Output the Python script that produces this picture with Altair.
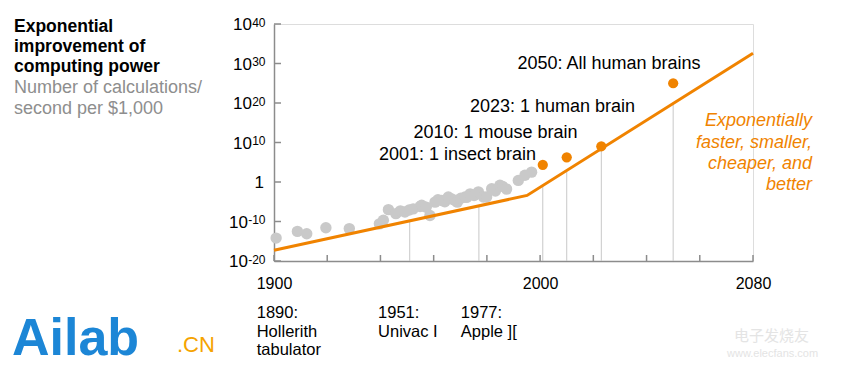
import altair as alt
import pandas as pd

# ---------------- data ----------------
hist_years = [1900.8, 1908.8, 1912.3, 1919.5, 1928.3, 1939.6, 1941.1, 1943.0, 1945.8, 1947.5,
              1949.2, 1950.8, 1952.3, 1954.9, 1955.5, 1957.2, 1958.6, 1960.5, 1961.6, 1963.0,
              1964.2, 1965.5, 1966.8, 1968.0, 1968.9, 1970.2, 1971.8, 1972.4, 1973.7, 1975.2,
              1976.8, 1978.7, 1979.9, 1981.8, 1983.2, 1984.9, 1985.9, 1987.4, 1991.8, 1994.3, 1996.8]
hist_exp = [-14.2, -12.5, -13.1, -11.6, -11.8, -10.6, -9.7, -7.0, -8.0, -7.3,
            -7.6, -7.1, -6.8, -6.2, -5.9, -6.4, -8.5, -5.1, -4.5, -4.7,
            -5.0, -3.8, -4.3, -4.7, -5.1, -4.1, -3.8, -3.9, -3.0, -3.4,
            -2.5, -3.8, -3.8, -1.7, -2.3, -0.8, -1.1, -1.8, 0.4, 1.7, 2.5]

trend_years = [1900, 1995.1, 2080]
trend_exp = [-17.3, -3.4, 32.6]

ms_years = [2001, 2010, 2023, 2050]
ms_exp = [4.35, 6.26, 9.05, 25.0]
ms_labels = ["2001: 1 insect brain", "2010: 1 mouse brain",
             "2023: 1 human brain", "2050: All human brains"]
ms_label_years = [1998.5, 2014.1, 2035.7, 2060.3]
ms_label_exp = [5.5, 11.15, 17.75, 28.7]

drop_years = [1951, 1977, 2001, 2010, 2023, 2050]
drop_exp = [-9.7, -5.9, -1.1, 2.9, 8.2, 20.2]

early_labels = ["1890:\nHollerith\ntabulator", "1951:\nUnivac I", "1977:\nApple ]["]
early_label_years = [1893.5, 1939.1, 1970.2]

y_tick_values = [-20, -10, 0, 10, 20, 30, 40]
y_tick_bases = ["10", "10", "1", "10", "10", "10", "10"]
y_tick_powers = ["-20", "-10", "", "10", "20", "30", "40"]
x_label_values = [1900, 2000, 2080]
x_tick_values = [1900, 1920, 1940, 1960, 1980, 2000, 2020, 2040, 2060, 2080]

title_lines = "Exponential\nimprovement of\ncomputing power"
subtitle_lines = "Number of calculations/\nsecond per $1,000"
side_note = "Exponentially\nfaster, smaller,\ncheaper, and\nbetter"
side_note_year = 2102.2
side_note_exp = 14.1

# ---------------- styling ----------------
ORANGE = "#F08300"
GRAY_DOT = "#C9C9C9"
AXIS = "#8C8C8C"
FONT = "Liberation Sans"
W, H = 479, 237

xs = alt.Scale(domain=[1900, 2080], nice=False, zero=False)
ys = alt.Scale(domain=[-20, 40], nice=False, zero=False)

hist_df = pd.DataFrame({"year": hist_years, "e": hist_exp})
trend_df = pd.DataFrame({"year": trend_years, "e": trend_exp})
ms_df = pd.DataFrame({"year": ms_years, "e": ms_exp, "label": ms_labels,
                      "ly": ms_label_years, "le": ms_label_exp})
drop_df = pd.DataFrame({"year": drop_years, "e": drop_exp, "base": [-20] * len(drop_years)})
early_df = pd.DataFrame({"year": early_label_years, "label": early_labels})
ytick_df = pd.DataFrame({"e": y_tick_values, "base": y_tick_bases, "pw": y_tick_powers})
xtick_df = pd.DataFrame({"year": x_tick_values, "e": [-20] * len(x_tick_values)})
one = pd.DataFrame({"k": [0]})

X = lambda f="year:Q": alt.X(f, scale=xs, title=None)
Y = lambda f="e:Q": alt.Y(f, scale=ys, title=None)

drops = alt.Chart(drop_df).mark_rule(color="#C8C8C8", strokeWidth=1).encode(
    x=X(), y=Y(), y2="base:Q",
)

trend = alt.Chart(trend_df).mark_line(color=ORANGE, strokeWidth=3).encode(
    x=alt.X("year:Q", scale=xs, title=None,
            axis=alt.Axis(values=x_label_values, format="d", ticks=False, grid=False,
                          labelFlush=False, labelOverlap=False,
                          domainColor=AXIS, domainWidth=1.5, labelFontSize=16,
                          labelFont=FONT, labelColor="#000", labelPadding=14.5)),
    y=alt.Y("e:Q", scale=ys, title=None,
            axis=alt.Axis(values=y_tick_values, labels=False, ticks=False, grid=False,
                          domainColor=AXIS, domainWidth=1.5)),
)

hist = alt.Chart(hist_df).mark_circle(color=GRAY_DOT, opacity=1, size=130).encode(
    x=X(), y=Y(),
)

ms_pts = alt.Chart(ms_df).mark_circle(color=ORANGE, opacity=1, size=105).encode(
    x=X(), y=Y(),
)

ms_text = alt.Chart(ms_df).mark_text(align="right", baseline="alphabetic", fontSize=18,
                                     font=FONT, color="#000").encode(
    x=X("ly:Q"), y=Y("le:Q"), text="label:N",
)

# y tick labels: base "10" and raised exponent
ylab_pos = alt.Chart(ytick_df).transform_filter("datum.e > 0").mark_text(
    align="right", baseline="alphabetic", dy=6, fontSize=17, font=FONT, color="#000").encode(
    y=Y(), x=alt.value(-22), text="base:N")
ylab_neg = alt.Chart(ytick_df).transform_filter("datum.e < 0").mark_text(
    align="right", baseline="alphabetic", dy=6, fontSize=17, font=FONT, color="#000").encode(
    y=Y(), x=alt.value(-26), text="base:N")
ylab_one = alt.Chart(ytick_df).transform_filter("datum.e == 0").mark_text(
    align="right", baseline="alphabetic", dy=6, fontSize=17, font=FONT, color="#000").encode(
    y=Y(), x=alt.value(-10), text="base:N")
ylab_pow = alt.Chart(ytick_df).transform_filter("datum.e != 0").mark_text(
    align="right", baseline="alphabetic", dy=2.5, fontSize=12, font=FONT, color="#000").encode(
    y=Y(), x=alt.value(-8.5), text="pw:N")

ytk = alt.Chart(ytick_df).mark_rule(color=AXIS, strokeWidth=1.5).encode(
    y=Y(), x=alt.value(0), x2=alt.value(7),
)
xtk = alt.Chart(xtick_df).mark_rule(color=AXIS, strokeWidth=1.5).encode(
    x=X(), y=alt.value(H), y2=alt.value(H - 6),
)

early_text = alt.Chart(early_df).mark_text(align="left", baseline="alphabetic", fontSize=16.5,
                                           font=FONT, color="#000", lineBreak="\n",
                                           lineHeight=18.5).encode(
    x=X(), y=alt.value(294), text="label:N",
)

side = alt.Chart(pd.DataFrame({"t": [side_note], "year": [side_note_year], "e": [side_note_exp]})).mark_text(
    align="right", baseline="alphabetic", fontSize=18, font=FONT, fontStyle="italic",
    color=ORANGE, lineBreak="\n", lineHeight=21.3).encode(
    x=X(), y=Y(), text="t:N",
)

title = alt.Chart(one).mark_text(align="left", baseline="alphabetic", fontSize=17.5, font=FONT,
                                 fontWeight="bold", color="#000", lineBreak="\n",
                                 lineHeight=20.4).encode(
    x=alt.value(-260), y=alt.value(7.7), text=alt.value(title_lines))
subtitle = alt.Chart(one).mark_text(align="left", baseline="alphabetic", fontSize=18, font=FONT,
                                    color="#8E8E8E", lineBreak="\n", lineHeight=20.4).encode(
    x=alt.value(-260), y=alt.value(69.3), text=alt.value(subtitle_lines))

logo = alt.Chart(one).mark_text(align="left", baseline="alphabetic", fontSize=52, font=FONT,
                                fontWeight="bold", color="#1C86D6").encode(
    x=alt.value(-262), y=alt.value(331), text=alt.value("Ailab"))
logo_cn = alt.Chart(one).mark_text(align="left", baseline="alphabetic", fontSize=22, font=FONT,
                                   color="#F5A300").encode(
    x=alt.value(-97), y=alt.value(328), text=alt.value(".CN"))
wm1 = alt.Chart(one).mark_text(align="left", baseline="alphabetic", fontSize=15,
                               font="Noto Sans CJK SC", color="#E4E4E4").encode(
    x=alt.value(460), y=alt.value(317), text=alt.value("电子发烧友"))
wm2 = alt.Chart(one).mark_text(align="left", baseline="alphabetic", fontSize=11, font=FONT,
                               color="#E4E4E4").encode(
    x=alt.value(453), y=alt.value(333), text=alt.value("www.elecfans.com"))

chart = alt.layer(
    drops, hist, trend, ms_pts, ms_text, ytk, xtk,
    ylab_pos, ylab_neg, ylab_one, ylab_pow,
    early_text, side, title, subtitle, logo, logo_cn, wm1, wm2,
).properties(
    width=W, height=H,
    autosize=alt.AutoSizeParams(type="none"),
    padding={"left": 266, "top": 16, "right": 81, "bottom": 108},
).configure_view(stroke=None).configure(background="white")

chart.save("out.html", embed_options={"renderer": "svg", "actions": False})
